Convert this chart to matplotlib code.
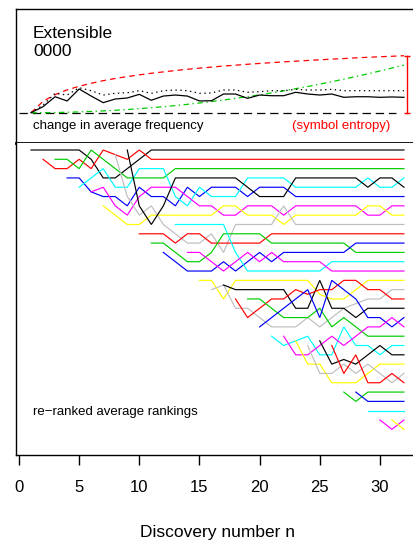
import numpy as np
import matplotlib
matplotlib.use("Agg")
import matplotlib.pyplot as plt

plt.rcParams['font.family'] = ['Liberation Sans', 'DejaVu Sans']
plt.rcParams['lines.scale_dashes'] = False

# discovery numbers 1..32
n_disc = np.arange(1, 33)

# top panel (in bits above the dashed baseline)
freq_change = [0, 0.53, 1.40, 1.03, 2.08, 1.46, 0.88, 1.20, 1.29, 1.61, 1.09, 1.46, 1.55, 1.46, 1.03, 1.05,
               1.64, 1.64, 1.26, 1.55, 1.49, 1.49, 1.79, 1.64, 1.55, 1.64, 1.35, 1.40, 1.40, 1.35, 1.38, 1.35]
freq_change_dotted = [0, 0.67, 1.70, 1.55, 2.19, 1.93, 1.55, 1.70, 1.75, 1.93, 1.70, 1.93, 1.99, 1.93, 1.70, 1.73,
                      1.99, 1.99, 1.79, 1.84, 1.93, 1.93, 2.05, 1.99, 1.99, 2.05, 1.93, 1.93, 1.93, 1.93, 1.93, 1.93]
symbol_entropy = [0, 1.00, 1.58, 2.00, 2.32, 2.58, 2.81, 3.00, 3.17, 3.32, 3.46, 3.58, 3.70, 3.81, 3.91, 4.00,
                  4.09, 4.17, 4.25, 4.32, 4.39, 4.46, 4.52, 4.58, 4.64, 4.70, 4.75, 4.81, 4.86, 4.91, 4.95, 5.00]
green_curve = [0, 0.004, 0.017, 0.039, 0.070, 0.109, 0.157, 0.213, 0.278, 0.352, 0.435, 0.526, 0.626, 0.735, 0.852,
               0.979, 1.113, 1.257, 1.409, 1.570, 1.740, 1.918, 2.105, 2.301, 2.505, 2.719, 2.941, 3.171, 3.411,
               3.659, 3.916, 4.180]

# re-ranked average rankings, one list per symbol, starting at its discovery number
rank_paths = [
    [1, 1, 1, 1, 1, 2, 4, 4, 3, 2] + [1] * 22,
    [2, 3, 3, 2, 3, 1, 1.5, 2, 1] + [2] * 22,
    [2, 2, 3, 1, 2, 3, 4, 4, 4, 4] + [3] * 20,
    [4, 4, 5.5, 6, 6, 7, 5, 6, 6, 7, 5, 6, 5, 5, 5, 6, 5, 5, 5] + [6] * 10,
    [5, 4, 3, 5, 5, 3, 3, 3, 6, 7, 5, 6, 6, 6, 4, 4, 4, 4] + [5] * 6 + [4, 5, 5, 4],
    [5.5, 5, 7, 8, 6, 5, 5, 5, 6, 7, 7, 8, 8, 7, 7, 7, 8] + [7] * 6 + [8, 8, 7, 7],
    [7, 8, 9, 9, 8, 8, 8, 8, 8, 8, 7, 7, 8, 8, 8, 9] + [8] * 6 + [7, 7, 8, 8],
    [1.5, 6, 8, 7, 9, 10, 11, 11, 10, 12, 9, 9, 9, 9, 7] + [9] * 10,
    [1, 7, 9, 7] + [4] * 6 + [5, 6, 6, 6] + [4] * 6 + [5, 4, 4, 5],
    [10, 10, 10, 11, 10, 10, 11, 11, 11, 11, 11] + [10] * 12,
    [11, 11, 12, 13, 13, 12, 10, 10, 10, 10] + [11] * 7 + [12] * 5,
    [12, 13, 14, 14, 14, 13, 14, 13, 12, 13] + [12] * 6 + [11] * 5,
    [9] * 5 + [12] + [14] * 7 + [13] * 7,
    [12, 12, 13, 14, 13, 12, 13, 12] + [13] * 4 + [14] * 7,
    [15, 15, 17] + [15] * 7 + [16.5, 17, 17, 16] + [15] * 4,
    [16, 15.5, 18, 18, 19, 20, 20, 20, 19, 20, 19, 18, 17.5, 17, 17, 16, 16],
    [15.5] + [16] * 5 + [18, 18, 15, 18, 18, 19] + [18] * 4,
    [17, 19, 18, 17, 17, 16, 16.5, 16, 16, 15, 15, 16, 16, 17, 17],
    [17, 17, 18, 19, 19, 19, 18, 20, 19, 20] + [21] * 4,
    [20, 19, 18, 17, 16, 19, 15, 16, 17, 19, 19, 20, 19],
    [21, 22, 21.5, 21, 23, 23, 20, 22, 22, 23, 22, 22],
    [21, 23, 23, 22, 21, 22, 21, 20, 20, 19, 20],
    [21.5, 24, 24, 26, 26, 26, 25, 24, 24, 24],
    [22, 25, 25, 24, 25, 24, 25, 26, 25],
    [21.5, 24, 23.5, 24, 23, 22, 23, 23],
    [22, 25, 23, 26, 26, 25, 26],
    [27, 28, 27, 27, 27, 27],
    [27, 28, 28, 28, 28],
    [29, 29, 29, 29],
    [30, 31, 30],
    [30, 31],
]

r_palette = ["#000000", "#FF0000", "#00CD00", "#0000FF", "#00FFFF", "#FF00FF", "#FFFF00", "#BEBEBE"]
x_ticks = [0, 5, 10, 15, 20, 25, 30]

W, H = 414, 540
fig = plt.figure(figsize=(W / 100, H / 100), dpi=100)


def px_box(x0, y0, x1, y1):
    return [x0 / W, 1 - y1 / H, (x1 - x0) / W, (y1 - y0) / H]


x_lim = ((16.5 - 19) / 12.03, (420 - 19) / 12.03)

# --- top panel
ax_top = fig.add_axes(px_box(16.5, 9, 420, 143))
ax_top.set_xlim(*x_lim)
ax_top.set_ylim(-(143 - 112.7) / 11.4, (112.7 - 9) / 11.4)
ax_top.plot([0, 31.3], [0, 0], color="black", lw=0.9, dashes=(6, 3.5))
ax_top.plot(n_disc, symbol_entropy, color="#FF0000", lw=0.9, dashes=(4, 3))
ax_top.plot(n_disc, green_curve, color="#00CD00", lw=0.9, dashes=(4, 2.5, 1, 2.5))
ax_top.plot(n_disc, freq_change_dotted, color="black", lw=0.9, dashes=(1, 2.5))
ax_top.plot(n_disc, freq_change, color="black", lw=0.9)
bar_x = 32.25
ax_top.plot([bar_x, bar_x], [0, symbol_entropy[-1]], color="#FF0000", lw=1.0)
ax_top.hlines([0, symbol_entropy[-1]], bar_x - 0.28, bar_x + 0.28, color="#FF0000", lw=1.0)
ax_top.set_xticks([])
ax_top.set_yticks([])
ax_top.spines['top'].set_linewidth(1.0)
ax_top.spines['left'].set_linewidth(1.0)
ax_top.spines['bottom'].set_linewidth(2.0)
ax_top.spines['right'].set_visible(False)

# --- bottom panel
ax = fig.add_axes(px_box(16.5, 143, 420, 455))
ax.set_xlim(*x_lim)
ax.set_ylim(1 + (455 - 150) / 9.31, 1 - (150 - 143) / 9.31)
for i, ranks in enumerate(rank_paths):
    start = i + 1
    xs = np.arange(start, start + len(ranks))
    ax.plot(xs, ranks, color=r_palette[i % 8], lw=0.85, solid_joinstyle='miter')
ax.spines['top'].set_visible(False)
ax.spines['right'].set_visible(False)
ax.spines['left'].set_linewidth(1.0)
ax.spines['bottom'].set_linewidth(1.0)
ax.set_yticks([])
ax.set_xticks(x_ticks)
ax.set_xticklabels([str(t) for t in x_ticks], fontsize=12)
ax.tick_params(axis='x', direction='out', length=7.5, width=1.0, pad=10.5)


def fig_text(x, y, s, **kw):
    fig.text(x / W, 1 - y / H, s, va='baseline', **kw)


fig_text(33, 37.5, "Extensible", fontsize=12.5)
fig_text(33, 56.5, "0000", fontsize=12.5)
fig_text(33, 128.5, "change in average frequency", fontsize=9.5)
fig_text(292, 128.5, "(symbol entropy)", fontsize=9.5, color="#FF0000")
fig_text(33, 415, "re\u2212ranked average rankings", fontsize=9.5)
fig_text(218, 536.5, "Discovery number n", fontsize=12.5, ha='center')

fig.savefig("out.png", dpi=100)
